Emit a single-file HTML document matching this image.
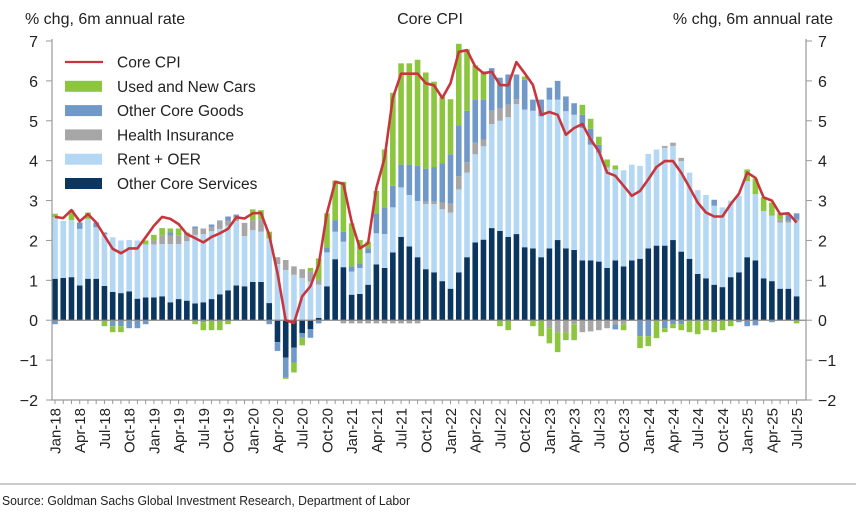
<!DOCTYPE html>
<html><head><meta charset="utf-8"><style>
body{margin:0;background:#fff;width:859px;height:507px;overflow:hidden}
svg text{font-family:"Liberation Sans",Arial,sans-serif;fill:#222}
</style></head><body>
<svg id="chart" width="859" height="507" viewBox="0 0 859 507" xmlns="http://www.w3.org/2000/svg">
<text x="430" y="24" font-size="16" text-anchor="middle">Core CPI</text>
<text x="25" y="24" font-size="16">% chg, 6m annual rate</text>
<text x="833" y="24" font-size="16" text-anchor="end">% chg, 6m annual rate</text>
<g id="bars"></g>
<g id="axes"></g>
<g id="legend"></g>
<line x1="0" y1="484" x2="856" y2="484" stroke="#999" stroke-width="1"/>
<text x="2" y="505" font-size="13" textLength="408" lengthAdjust="spacingAndGlyphs">Source: Goldman Sachs Global Investment Research, Department of Labor</text>
</svg>
<script>
const monthsShort=["Jan","Feb","Mar","Apr","May","Jun","Jul","Aug","Sep","Oct","Nov","Dec"];
const yTicks=[-2,-1,0,1,2,3,4,5,6,7];
const otherServices=[1.04,1.06,1.08,0.87,1.04,1.04,0.86,0.71,0.68,0.72,0.54,0.57,0.57,0.6,0.45,0.53,0.49,0.42,0.45,0.53,0.65,0.75,0.87,
0.85,0.96,0.96,0.43,-0.55,-0.94,-0.69,-0.32,-0.22,0.06,0.85,1.53,1.33,0.64,0.66,0.89,
1.4,1.31,1.7,2.09,1.85,1.58,1.28,1.2,0.98,0.79,1.2,1.58,1.95,2.02,2.31,2.24,2.09,2.16,1.83,1.8,
1.58,1.8,2.01,1.8,1.76,1.5,1.5,1.47,1.31,1.5,1.35,1.5,1.54,1.8,1.87,1.87,2.01,1.72,1.54,1.16,1.05,0.89,0.83,1.08,1.2,1.58,1.5,1.05,0.98,0.79,0.79,0.6];
const rentOER=[1.54,1.43,1.43,1.42,1.5,1.29,1.3,1.37,1.32,1.29,1.46,1.33,1.33,1.31,1.46,1.38,1.49,1.72,1.71,1.7,1.64,1.62,1.62,
1.26,1.3,1.26,1.62,1.41,1.26,1.14,1.06,0.97,0.83,0.85,0.69,0.64,0.58,0.65,0.79,
0.78,0.85,1.13,1.24,1.29,1.41,1.63,1.71,1.8,1.91,2.08,2.12,2.21,2.34,2.61,2.76,3.0,3.26,3.45,3.45,
3.53,3.73,3.52,3.44,3.39,3.32,2.9,2.73,2.52,2.28,2.41,2.4,2.33,2.37,2.41,2.45,2.36,2.27,2.16,2.1,2.09,1.98,2.0,1.92,1.92,1.91,1.66,1.69,1.64,1.66,1.66,1.89];
const healthIns=[0,0,0,0,0,0,0,0,0,0,0,0,0.1,0.21,0.21,0.22,0.22,0.16,0.14,0.12,0.19,0.13,0.11,
0.33,0.25,0.31,0,0.17,0.25,0.21,0.22,0.25,0.12,0,0,-0.08,-0.08,-0.08,-0.08,
-0.08,-0.08,-0.08,-0.08,-0.08,-0.08,0.06,0.06,0.17,0.22,0.33,0.26,0.29,0.17,0.34,0.31,0.32,0.12,0,0,
0,-0.2,-0.3,-0.3,-0.1,-0.3,-0.28,-0.25,-0.2,-0.1,-0.1,0,0,0,0,0.05,0.08,0.08,0,0,0,0,0,0,0,0,0,0,0,0.08,0.05,0.04];
const otherGoods=[-0.1,0,0,0.16,0,0.12,0.04,-0.15,-0.15,-0.2,-0.2,-0.1,0,0,0.08,0,0,0.05,-0.05,0.05,0.02,0.1,0.05,
0,0,0,-0.1,-0.22,-0.5,-0.37,-0.12,-0.22,-0.08,0.13,0.29,0.25,0.13,0.12,0.12,
0.5,0.67,0.54,0.57,0.76,0.88,0.83,0.87,0.98,1.24,1.28,1.29,1.07,1.0,1.06,0.77,0.75,0.62,0.75,0.28,
0.42,0.3,0.47,0.37,0.29,0.33,0.4,0.2,0,-0.13,0,0,-0.4,-0.4,0,-0.2,-0.1,-0.1,0,0,0,0.15,0,0,-0.05,-0.15,-0.13,0,-0.05,0,0.15,0.15];
const usedCars=[0.09,0,0.25,0,0.16,0,-0.15,-0.15,-0.15,0,0,0.1,0.14,0.19,0.1,0.17,0,-0.1,-0.2,-0.25,-0.25,-0.1,0,
0,0.27,0.23,0.17,0,-0.03,-0.25,-0.19,0.09,0.54,0.85,0.99,1.25,1.08,0.58,0.17,
0.56,1.45,2.33,2.54,2.54,2.66,2.41,2.14,1.67,1.38,2.04,1.54,0.87,0.71,0,-0.15,-0.25,0,0.08,-0.15,
-0.4,-0.38,-0.5,-0.2,-0.4,0.25,0.25,0.2,0.2,0.1,-0.15,0,-0.3,-0.25,-0.45,-0.1,-0.1,-0.15,-0.3,-0.35,-0.25,-0.3,-0.25,-0.15,0,0.29,0.39,0.34,0.33,0.15,0,-0.08];
const coreCPI=[2.59,2.56,2.76,2.48,2.66,2.45,2.12,1.79,1.68,1.8,1.8,2.08,2.37,2.59,2.54,2.41,2.16,2.06,1.95,2.09,2.18,2.29,2.58,
2.55,2.68,2.69,2.14,1.18,0.0,-0.07,0.6,0.85,1.39,2.68,3.47,3.42,2.47,1.8,1.93,
3.32,4.07,5.57,6.18,6.18,6.18,5.94,5.89,5.57,5.94,6.73,6.77,6.36,6.19,6.23,5.9,5.89,6.47,6.19,5.9,
5.15,5.22,5.15,4.65,4.82,4.92,4.53,4.24,3.7,3.62,3.37,3.12,3.24,3.53,3.84,3.99,3.99,3.7,3.33,2.95,2.7,2.6,2.6,2.91,3.17,3.7,3.57,3.08,3.0,2.66,2.68,2.45];
const startYear=2018;

const NS="http://www.w3.org/2000/svg";
const X0=55,DX=8.24,LEFT=52,RIGHT=806,TOP=41,BOTTOM=400,YMIN=-2,YMAX=7;
const xPos=i=>X0+i*DX;
const yPos=v=>BOTTOM-(v-YMIN)/(YMAX-YMIN)*(BOTTOM-TOP);
function mk(tag,attrs,parent){const e=document.createElementNS(NS,tag);for(const k in attrs)e.setAttribute(k,attrs[k]);parent.appendChild(e);return e;}
const barsG=document.getElementById('bars'),axesG=document.getElementById('axes'),legG=document.getElementById('legend');
const series=[
 {vals:otherServices,color:"#0b3660",name:"other-core-services"},
 {vals:rentOER,color:"#b4d8f3",name:"rent-oer"},
 {vals:healthIns,color:"#a6a6a6",name:"health-insurance"},
 {vals:otherGoods,color:"#7099c9",name:"other-core-goods"},
 {vals:usedCars,color:"#8cc63f",name:"used-new-cars"}];
const BW=5.6;
for(let i=0;i<coreCPI.length;i++){
 let pos=0,neg=0;
 for(const s of series){
  const v=s.vals[i]; if(!v) continue;
  let y1,y2;
  if(v>0){y1=pos;y2=pos+v;pos=y2;}else{y1=neg;y2=neg+v;neg=y2;}
  const r=mk('rect',{x:xPos(i)-BW/2,y:Math.min(yPos(y1),yPos(y2)),width:BW,height:Math.abs(yPos(y1)-yPos(y2)),fill:s.color},barsG);
  
  
 }
}
// zero line
const zl=mk('line',{x1:LEFT,x2:RIGHT,y1:yPos(0),y2:yPos(0),stroke:"#888","stroke-width":1.2},axesG);


// core cpi line
const pts=coreCPI.map((v,i)=>xPos(i).toFixed(1)+","+yPos(v).toFixed(1)).join(" ");
const pl=mk('polyline',{points:pts,fill:"none",stroke:"#c9353c","stroke-width":2.6,"stroke-linejoin":"round"},axesG);


// axes
const ax=mk('path',{d:`M${LEFT},${TOP-2}V${BOTTOM}H${RIGHT}V${TOP-2}`,fill:"none",stroke:"#999","stroke-width":1.2},axesG);


for(const t of yTicks){
 const y=yPos(t);
 mk('line',{x1:LEFT-6,x2:LEFT,y1:y,y2:y,stroke:"#999"},axesG);
 mk('line',{x1:RIGHT,x2:RIGHT+6,y1:y,y2:y,stroke:"#999"},axesG);
 const lt=mk('text',{x:38,y:y+6,"font-size":16,"text-anchor":"end"},axesG);lt.textContent=t<0?"\u2212"+(-t):t;
 
 
 const rt=mk('text',{x:818,y:y+6,"font-size":16},axesG);rt.textContent=t<0?"\u2212"+(-t):t;
 
 
}
for(let i=0;i<coreCPI.length;i++){
 const x=xPos(i);
 mk('line',{x1:x,x2:x,y1:BOTTOM,y2:BOTTOM+4,stroke:"#999"},axesG);
 if(i%3===0){
  const lab=monthsShort[i%12]+"-"+String((startYear+Math.floor(i/12))%100).padStart(2,'0');
  const t=mk('text',{x:0,y:0,"font-size":15,"text-anchor":"end",transform:`translate(${x+5.5},${BOTTOM+8}) rotate(-90)`},axesG);
  t.textContent=lab;
  
  
 }
}
// legend
const leg=[["Core CPI","line","#c9353c"],["Used and New Cars","rect","#8cc63f"],["Other Core Goods","rect","#7099c9"],["Health Insurance","rect","#a6a6a6"],["Rent + OER","rect","#b4d8f3"],["Other Core Services","rect","#0b3660"]];
leg.forEach((l,k)=>{
 const y=62+k*24.3;
 const g=mk('g',{},legG);
 
 
 if(l[1]==="line") mk('line',{x1:65,x2:103,y1:y,y2:y,stroke:l[2],"stroke-width":2.2},g);
 else mk('rect',{x:65,y:y-5.5,width:37,height:11,fill:l[2]},g);
 const t=mk('text',{x:117,y:y+5.5,"font-size":15.5},g);t.textContent=l[0];
});
</script>
</body></html>
